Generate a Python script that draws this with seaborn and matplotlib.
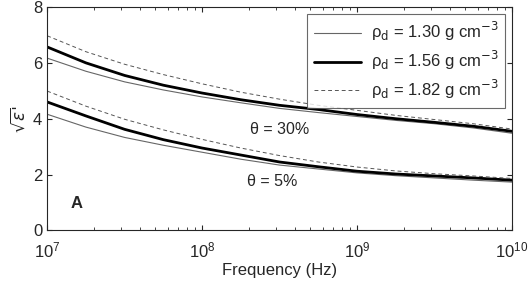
import numpy as np
import pandas as pd
import matplotlib.pyplot as plt
import seaborn as sns

# frequency points (log10 Hz)
log_freq = [7.0, 7.25, 7.5, 7.75, 8.0, 8.25, 8.5, 8.75, 9.0, 9.25, 9.5, 9.75, 10.0]

# sqrt(eps'), theta = 30 %
w30_130 = [6.17, 5.70, 5.32, 5.03, 4.78, 4.57, 4.37, 4.22, 4.08, 3.94, 3.82, 3.67, 3.48]
w30_156 = [6.57, 6.00, 5.55, 5.20, 4.92, 4.68, 4.48, 4.33, 4.15, 4.00, 3.87, 3.73, 3.55]
w30_182 = [6.97, 6.40, 5.95, 5.58, 5.25, 4.95, 4.70, 4.48, 4.30, 4.12, 3.97, 3.82, 3.63]

# theta = 5 %
w5_130 = [4.16, 3.70, 3.33, 3.05, 2.80, 2.55, 2.34, 2.20, 2.06, 1.96, 1.88, 1.80, 1.73]
w5_156 = [4.60, 4.10, 3.62, 3.25, 2.95, 2.70, 2.45, 2.28, 2.12, 2.02, 1.95, 1.88, 1.80]
w5_182 = [4.99, 4.45, 3.98, 3.60, 3.26, 2.95, 2.68, 2.45, 2.27, 2.13, 2.03, 1.95, 1.86]

densities = ['1.30', '1.56', '1.82']

rows = []
for theta, series in [('30', [w30_130, w30_156, w30_182]), ('5', [w5_130, w5_156, w5_182])]:
    for d, vals in zip(densities, series):
        for lf, v in zip(log_freq, vals):
            rows.append({'freq': 10 ** lf, 'val': v, 'rho': d, 'theta': theta})
df = pd.DataFrame(rows)

sns.set_style('ticks')
plt.rcParams['font.family'] = ['Liberation Sans', 'DejaVu Sans']

fig, ax = plt.subplots(figsize=(5.3, 2.81), dpi=100)

styles = {'1.30': dict(lw=0.8, color='#666666', ls='-'),
          '1.56': dict(lw=2.0, color='black', ls='-'),
          '1.82': dict(lw=0.7, color='#555555', ls=(0, (4, 3)))}

for theta in ['30', '5']:
    for d in densities:
        sub = df[(df.theta == theta) & (df.rho == d)]
        sns.lineplot(data=sub, x='freq', y='val', ax=ax,
                     label=('ρ$_\\mathrm{d}$ = ' + d + ' g cm$^{-3}$') if theta == '30' else None,
                     **styles[d])

ax.set_xscale('log')
ax.set_xlim(1e7, 1e10)
ax.set_ylim(0, 8)
ax.set_yticks([0, 2, 4, 6, 8])
ax.tick_params(which='both', direction='in', top=True, right=True, labelsize=12)
ax.tick_params(axis='x', pad=7)
ax.set_xlabel('Frequency (Hz)', fontsize=12, labelpad=2)
ax.set_ylabel("$\\sqrt{\\epsilon}$'", fontsize=12)

ax.text(10 ** 8.5, 3.62, 'θ = 30%', fontsize=11.5, ha='center', va='center')
ax.text(10 ** 8.45, 1.75, 'θ = 5%', fontsize=11.5, ha='center', va='center')
ax.text(10 ** 7.19, 0.95, 'A', fontsize=12, fontweight='bold', ha='center', va='center')

leg = ax.legend(loc='upper right', fontsize=12, frameon=True, fancybox=False,
                edgecolor='#444444', handlelength=2.8, labelspacing=0.35,
                borderaxespad=0.4, borderpad=0.4, handletextpad=0.6)
leg.get_frame().set_linewidth(0.8)

plt.subplots_adjust(left=0.089, right=0.966, top=0.975, bottom=0.18)
fig.savefig('out.png', dpi=100)
